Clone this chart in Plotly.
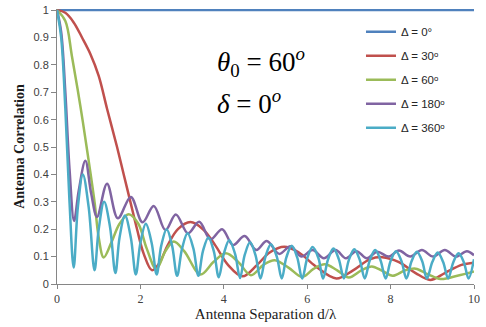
import plotly.graph_objects as go

# ---- data ----
blue_x = [0, 10]
blue_y = [1.0, 1.0]

red_x = [0, 0.2, 0.4, 0.6, 0.8, 1.0, 1.2, 1.44, 1.6, 1.76, 1.92, 2.08, 2.28, 2.45, 2.65, 2.9,
         3.2, 3.5, 3.8, 4.1, 4.45, 4.8, 5.1, 5.45, 5.8, 6.2, 6.7, 7.1, 7.5, 7.8, 8.2, 8.6,
         8.95, 9.3, 9.7, 10.0]
red_y = [1.0, 0.99, 0.955, 0.9, 0.84, 0.76, 0.64, 0.5, 0.4, 0.3, 0.2, 0.11, 0.05, 0.075, 0.14, 0.2,
         0.226, 0.2, 0.14, 0.07, 0.028, 0.07, 0.115, 0.136, 0.115, 0.065, 0.02, 0.05, 0.09, 0.098, 0.08, 0.04,
         0.015, 0.04, 0.07, 0.078]

green_x = [0, 0.2, 0.36, 0.56, 0.74, 0.9, 1.0, 1.12, 1.3, 1.5, 1.72, 1.95, 2.15, 2.38, 2.6, 2.8,
           3.05, 3.44, 3.75, 4.05, 4.35, 4.65, 4.95, 5.22, 5.55, 5.88, 6.15, 6.42, 6.72, 7.0, 7.3,
           7.55, 7.8, 8.05, 8.35, 8.6, 8.9, 9.2, 9.6, 10.0]
green_y = [1.0, 0.96, 0.83, 0.65, 0.47, 0.3, 0.17, 0.097, 0.15, 0.22, 0.255, 0.22, 0.13, 0.055, 0.12, 0.155,
           0.12, 0.035, 0.08, 0.112, 0.08, 0.032, 0.07, 0.087, 0.06, 0.026, 0.055, 0.072, 0.05, 0.024, 0.05,
           0.064, 0.048, 0.03, 0.05, 0.056, 0.035, 0.018, 0.03, 0.046]

purple_x = [0, 0.1, 0.2, 0.3, 0.41, 0.52, 0.68, 0.82, 0.96, 1.2, 1.46, 1.77, 2.05, 2.32, 2.6, 2.85,
            3.14, 3.41, 3.68, 3.96, 4.22, 4.5, 4.78, 5.03, 5.33, 5.6, 5.86, 6.13, 6.4, 6.68, 6.93,
            7.18, 7.43, 7.68, 7.95, 8.2, 8.47, 8.75, 9.02, 9.3, 9.57, 9.83, 10.0]
purple_y = [1.0, 0.92, 0.7, 0.42, 0.23, 0.34, 0.45, 0.33, 0.245, 0.366, 0.24, 0.318, 0.225, 0.285, 0.197, 0.254,
            0.185, 0.227, 0.163, 0.2, 0.142, 0.175, 0.124, 0.157, 0.11, 0.138, 0.1, 0.124, 0.094, 0.124, 0.094,
            0.12, 0.094, 0.118, 0.1, 0.122, 0.1, 0.124, 0.1, 0.124, 0.1, 0.12, 0.105]

cyan_x = [0, 0.1, 0.2, 0.3, 0.4, 0.5, 0.62, 0.76, 0.9, 1.0, 1.13, 1.27, 1.4, 1.5, 1.63, 1.77,
          1.89, 2.0, 2.13, 2.27, 2.39, 2.5, 2.63, 2.76, 2.88, 3.0, 3.13, 3.27, 3.39, 3.5, 3.63, 3.76,
          3.88, 4.0, 4.13, 4.27, 4.39, 4.5, 4.63, 4.76, 4.88, 5.0, 5.13, 5.27, 5.39, 5.5, 5.63, 5.76,
          5.88, 6.0, 6.13, 6.27, 6.38, 6.5, 6.63, 6.76, 6.88, 7.0, 7.13, 7.26, 7.38, 7.5, 7.63, 7.76,
          7.88, 8.0, 8.13, 8.26, 8.38, 8.5, 8.63, 8.76, 8.87, 9.0, 9.13, 9.26, 9.38, 9.5, 9.63, 9.76,
          9.87, 10.0]
cyan_y = [1.0, 0.9, 0.64, 0.3, 0.06, 0.28, 0.40, 0.28, 0.05, 0.2, 0.30, 0.21, 0.04, 0.17, 0.25, 0.17,
          0.035, 0.15, 0.22, 0.15, 0.035, 0.14, 0.20, 0.14, 0.03, 0.13, 0.185, 0.13, 0.03, 0.12, 0.17, 0.12,
          0.025, 0.11, 0.16, 0.11, 0.022, 0.105, 0.152, 0.105, 0.02, 0.1, 0.145, 0.1, 0.02, 0.097, 0.14, 0.097,
          0.02, 0.094, 0.135, 0.094, 0.02, 0.09, 0.13, 0.09, 0.02, 0.088, 0.127, 0.088, 0.02, 0.086, 0.124, 0.086,
          0.02, 0.084, 0.12, 0.084, 0.02, 0.082, 0.118, 0.082, 0.02, 0.08, 0.115, 0.08, 0.02, 0.078, 0.112, 0.078,
          0.02, 0.09]

series = [
    ("Δ = 0°", blue_x, blue_y, "#4F81BD"),
    ("Δ = 30ᵒ", red_x, red_y, "#C0504D"),
    ("Δ = 60ᵒ", green_x, green_y, "#9BBB59"),
    ("Δ = 180ᵒ", purple_x, purple_y, "#8064A2"),
    ("Δ = 360ᵒ", cyan_x, cyan_y, "#4BACC6"),
]

x_ticks = [0, 2, 4, 6, 8, 10]
y_ticks = [0, 0.1, 0.2, 0.3, 0.4, 0.5, 0.6, 0.7, 0.8, 0.9, 1]

fig = go.Figure()
for i, (name, xs, ys, col) in enumerate(series):
    fig.add_trace(go.Scatter(
        x=xs, y=ys, name=name, mode="lines",
        line=dict(color=col, width=2.5, shape="spline", smoothing=1.0),
        legendgroup=f"g{i}",
    ))

fig.update_layout(
    width=486, height=327,
    margin=dict(l=57, r=12, t=9, b=43, autoexpand=False),
    paper_bgcolor="white", plot_bgcolor="white",
    showlegend=True,
    legend=dict(x=0.729, y=0.97, xanchor="left", yanchor="top",
                bgcolor="rgba(0,0,0,0)", tracegroupgap=5,
                font=dict(family="Liberation Sans, Arial, sans-serif", size=11.5, color="#262626")),
    xaxis=dict(range=[0, 10], tickvals=x_ticks, showgrid=False, zeroline=False, automargin=False,
               showline=True, linecolor="#868686", linewidth=1,
               ticks="outside", ticklen=4, tickcolor="#868686",
               tickfont=dict(family="Liberation Serif, Times New Roman, serif", size=12, color="#404040"),
               title=dict(text="Antenna Separation d/λ", standoff=1,
                          font=dict(family="Liberation Serif, Times New Roman, serif", size=15, color="#1a1a1a"))),
    yaxis=dict(range=[0, 1.004], tickvals=y_ticks, ticktext=[str(v) for v in y_ticks],
               showgrid=False, zeroline=False, automargin=False,
               showline=True, linecolor="#868686", linewidth=1,
               ticks="outside", ticklen=5, tickcolor="#868686",
               tickfont=dict(family="Liberation Sans, Arial, sans-serif", size=11, color="#404040"),
               title=dict(text="<b>Antenna Correlation</b>", standoff=5,
                          font=dict(family="Liberation Serif, Times New Roman, serif", size=14, color="#1a1a1a"))),
)

fig.add_annotation(x=3.8, y=0.81, xref="x", yref="y", xanchor="left", yanchor="middle",
                   text="<i>θ</i><sub>0</sub> = 60<sup><i>o</i></sup>", showarrow=False,
                   font=dict(family="Liberation Serif, Times New Roman, serif", size=27, color="black"))
fig.add_annotation(x=3.8, y=0.665, xref="x", yref="y", xanchor="left", yanchor="middle",
                   text="<i>δ</i> = 0<sup><i>o</i></sup>", showarrow=False,
                   font=dict(family="Liberation Serif, Times New Roman, serif", size=27, color="black"))

fig.write_html("out.html", config={"displayModeBar": False},
               post_script="document.body.style.margin='0';")
